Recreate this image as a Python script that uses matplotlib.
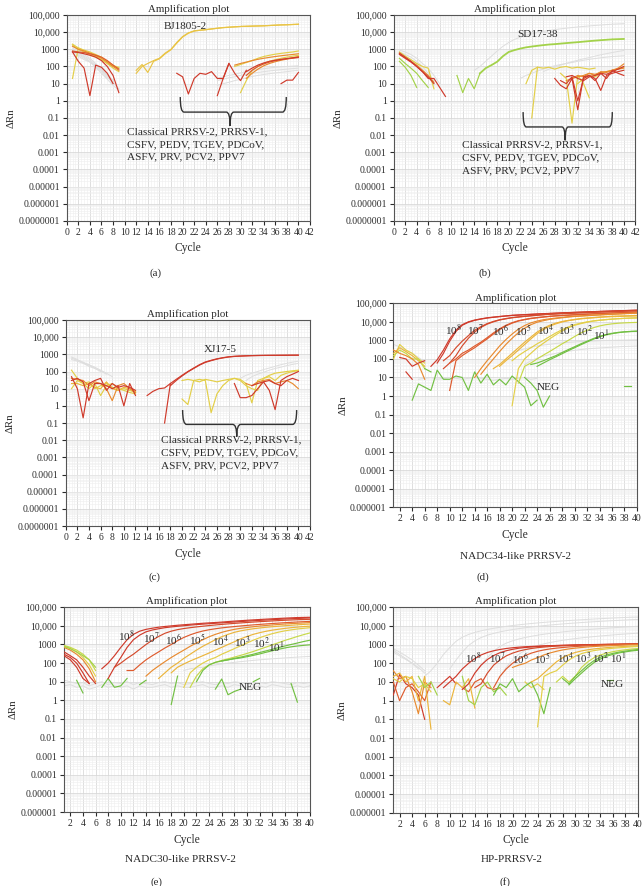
"""
Amplification plots, six panels (a)-(f): specificity and sensitivity runs.
Output: out.png
"""
import numpy as np
import matplotlib
matplotlib.use("Agg")
import matplotlib.pyplot as plt
from matplotlib.ticker import FixedLocator, MultipleLocator, LogLocator, NullFormatter
from matplotlib.path import Path
from matplotlib.patches import PathPatch

plt.rcParams["font.family"] = ["Liberation Serif", "DejaVu Serif"]
plt.rcParams["mathtext.fontset"] = "stix"

# ── Axis ticks ───────────────────────────────────────────────────────────────
Y_TICKS_7 = [1e5, 1e4, 1e3, 1e2, 1e1, 1, 0.1, 0.01, 1e-3, 1e-4, 1e-5, 1e-6, 1e-7]
Y_LABELS_7 = ["100,000", "10,000", "1000", "100", "10", "1", "0.1", "0.01",
              "0.001", "0.0001", "0.00001", "0.000001", "0.0000001"]
X_TICKS_ABC = list(range(0, 43, 2))
X_TICKS_DEF = list(range(2, 41, 2))
DILUTIONS = ["10$^{8}$", "10$^{7}$", "10$^{6}$", "10$^{5}$",
             "10$^{4}$", "10$^{3}$", "10$^{2}$", "10$^{1}$"]
NEG_LABEL = "NEG"
CROSS_TEXT = "Classical PRRSV-2, PRRSV-1,\nCSFV, PEDV, TGEV, PDCoV,\nASFV, PRV, PCV2, PPV7"

# ── Panel (a): each series = (first cycle, ΔRn values per cycle) ─────────────
A_BJ1805 = [40, 100, 150, 220, 300, 600, 1000, 2500, 5500, 9000, 12000, 13000,
            14000, 15500, 17000, 18500, 19500, 20500, 21500, 22000, 22500, 23000,
            23500, 24500, 25500, 26500, 27000, 28000, 29000]
A_BJ1805_REP = [60, 130, 45, 200, 280, 550, 950, 2300, 5200, 8700, 11500, 12800,
                13800, 15200, 16700, 18200, 19200, 20200, 21200, 21800, 22300,
                22800, 23300, 24200, 25200, 26200, 26800, 27700, 28500]
A_GRAY = [(1, [1500, 900, 500, 300, 150, 70, 30, 12, 5]),
          (1, [1200, 700, 400, 250, 120, 60, 25, 10]),
          (1, [900, 600, 350, 200, 100, 50, 20]),
          (1, [700, 500, 300, 180, 90, 40, 18, 8, 4]),
          (1, [1000, 400, 250, 180, 120, 80, 40, 15]),
          (26, [15, 18, 22, 25, 30, 35, 40, 45, 50, 55, 60, 65, 70, 75, 80]),
          (26, [8, 10, 12, 15, 18, 22, 26, 30, 34, 38, 42, 46, 50, 55, 60]),
          (26, [20, 25, 30, 35, 42, 50, 58, 66, 74, 82, 90, 95, 100, 105, 110])]
A_RED = [(1, [700, 650, 550, 450, 350, 220, 100, 30, 3]),
         (1, [700, 200, 80, 2, 120, 90, 40, 10]),
         (19, [40, 25, 2.5, 20, 40, 35, 50, 20, 20, 150, 40, 15, 60]),
         (26, [2, 20, 150]),
         (31, [50, 80, 120, 160, 200, 230, 260, 290, 320, 350]),
         (37, [10, 16, 16, 45])]
A_RED2 = [(1, [800, 700, 650, 550, 450, 350, 220, 120, 70]),
          (31, [30, 60, 100, 140, 180, 220, 250, 280, 300, 330])]
A_ORANGE = [(1, [1500, 1000, 800, 600, 450, 300, 180, 100, 60]),
            (31, [20, 40, 70, 110, 150, 190, 230, 270, 320, 380]),
            (29, [120, 150, 180, 220, 260, 300, 340, 380, 420, 460, 500, 550])]
A_YELLOW = [(1, [2000, 1200, 900, 700, 500, 350, 200, 120, 80]),
            (1, [20, 1200, 800, 500, 400, 250, 150, 80, 50]),
            (1, [1800, 1000, 700, 500, 350, 250, 150, 100, 90]),
            (29, [100, 130, 170, 220, 300, 380, 450, 520, 580, 640, 700, 800]),
            (30, [3, 15, 60, 100, 150, 200, 250, 300, 350, 400, 450])]

# ── Panel (b) ────────────────────────────────────────────────────────────────
B_SD1738 = [40, 80, 120, 190, 400, 700, 900, 1100, 1300, 1450, 1600, 1750, 1900,
            2000, 2150, 2300, 2450, 2600, 2800, 3000, 3200, 3400, 3600, 3800,
            3900, 4000]
B_GRAY = [(1, [900, 700, 500, 300, 150, 80, 30, 10]),
          (1, [700, 500, 350, 200, 100, 40, 15]),
          (1, [600, 400, 250, 150, 70, 25, 8]),
          (14, [60, 100, 200, 400, 800, 1500, 2500, 3800, 5000, 6500, 8000, 9500,
                11000, 12500, 14000, 15500, 17000, 18500, 20000, 21500, 23000,
                24500, 26000, 27500, 29000, 30000, 31000]),
          (22, [20, 30, 40, 55, 70, 90, 110, 130, 150, 170, 200, 230, 260, 290,
                320, 350, 380, 400, 420]),
          (26, [50, 70, 90, 120, 150, 190, 230, 280, 330, 400, 480, 560, 650,
                750, 850])]
B_RED = [(1, [600, 350, 200, 100, 50, 20, 20, 6, 1.8]),
         (1, [500, 300, 180, 100, 50, 25, 10]),
         (28, [20, 8, 5, 20, 0.3, 25, 30, 20, 4, 30, 40, 50, 60]),
         (29, [15, 10, 25, 1, 20, 30, 15, 40, 20, 60, 40, 30]),
         (30, [25, 30, 20, 15, 25, 30, 40, 35, 50, 70, 100])]
B_ORANGE = [(1, [550, 320, 200, 120, 60, 30, 12]),
            (30, [15, 20, 25, 30, 40, 35, 45, 50, 60, 70, 80]),
            (31, [20, 30, 25, 40, 30, 50, 45, 60, 80, 140])]
B_YELLOW = [(1, [700, 400, 250, 150, 100, 80, 5]),
            (23, [10, 60, 90, 80, 90, 70, 90, 100, 80, 90, 80, 70, 80]),
            (24, [0.1, 90]),
            (29, [40, 20, 0.05, 30, 10, 1.5]),
            (32, [10, 20, 30, 25, 40, 50, 60, 70, 90])]
B_GREEN = [(1, [200, 90, 30, 6]),
           (1, [300, 150, 80, 40, 15, 6]),
           (11, [30, 3, 20, 5, 40])]

# ── Panel (c) ────────────────────────────────────────────────────────────────
C_XJ175 = [0.1, 20, 35, 60, 100, 160, 250, 360, 450, 550, 640, 720, 770, 800,
           830, 850, 860, 870, 875, 880, 885, 890, 895, 900]
C_XJ175_REP = [15, 30, 55, 95, 150, 235, 340, 430, 530, 620, 700, 755, 790, 815,
               840, 855, 865, 872, 878, 883, 888, 893, 898]
C_GRAY = [(1, [700, 500, 350, 250, 180, 120, 80, 50]),
          (1, [600, 450, 320, 230, 160, 110, 70]),
          (1, [500, 400, 300, 200, 150, 100]),
          (30, [40, 60, 80, 100, 130, 160, 200, 250, 300, 350, 400]),
          (31, [30, 50, 70, 90, 120, 150, 180, 220, 260, 300])]
C_RED = [(1, [50, 10, 0.2, 20, 30, 40, 8, 20, 12, 15, 12, 8]),
         (1, [30, 40, 25, 2, 20, 20, 15, 10, 15, 1, 20, 4]),
         (14, [4, 7, 10, 11, 20]),
         (29, [20, 3, 3, 4, 10, 25, 8, 0.6, 30, 50, 70, 100]),
         (32, [15, 20, 25, 30, 20, 15, 30, 40, 30])]
C_ORANGE = [(1, [40, 35, 30, 15, 25, 20, 10, 2, 15, 20, 10, 6]),
            (31, [20, 15, 25, 30, 35, 20, 25, 30, 20, 10])]
C_YELLOW = [(1, [120, 40, 20, 10, 20, 4, 15, 20, 10, 8, 6, 5]),
            (1, [10, 30, 20, 25, 10, 15, 20, 12, 8, 10, 8, 6]),
            (20, [2.5, 1.2, 30, 35, 30, 0.4, 5, 15, 30, 40, 30, 15, 10, 8, 40,
                  50, 30, 60, 80, 100, 110]),
            (20, [30, 35, 30, 25, 35, 30, 25, 30, 35, 40, 35, 20, 1.5, 30, 40,
                  60, 80, 90, 100, 110, 120])]
C_AMBER = [(1, [20, 20, 15, 20, 12, 10, 25, 10, 8, 12, 10, 7])]

# ── Panel (d) NADC34-like, dilutions 10^8 .. 10^1 (replicates) ───────────────
D_STD = [
    [(7, [40, 90, 300, 1200, 3500, 7000, 10000, 12500, 14500, 16500, 18000, 19500,
          21000, 22500, 23500, 24500, 25500, 26500, 27500, 28500, 29500, 30500,
          31500, 32500, 33500, 34500, 35500, 36500, 37500, 38500, 39500, 40500,
          41500, 42500]),
     (8, [60, 200, 900, 3000, 6500, 9500, 12000, 14000, 16000, 17500, 19000, 20500,
          22000, 23000, 24000, 25000, 26000, 27000, 28000, 29000, 30000, 31000,
          32000, 33000, 34000, 35000, 36000, 37000, 38000, 39000, 40000, 41000,
          42000])],
    [(9, [80, 150, 400, 900, 1800, 3500, 5500, 8000, 10500, 13000, 15000, 17000,
          18500, 20000, 21500, 23000, 24500, 26000, 27000, 28000, 29000, 30000,
          31000, 32000, 33000, 34000, 35000, 36000, 37000, 38000, 39000, 40000]),
     (9, [30, 60, 150, 500, 1300, 2800, 5000, 7500, 10000, 12500, 14500, 16500,
          18000, 19500, 21000, 22500, 24000, 25500, 26500, 27500, 28500, 29500,
          30500, 31500, 32500, 33500, 34500, 35500, 36500, 37500, 38500, 39500])],
    [(10, [2, 80, 150, 250, 400, 700, 1200, 2200, 3800, 6000, 8500, 11000, 13000,
           15000, 16500, 18000, 19500, 21000, 22000, 23000, 24000, 25000, 26000,
           27000, 28000, 29000, 30000, 31000, 32000, 33000, 34000]),
     (10, [60, 100, 200, 300, 500, 800, 1400, 2500, 4200, 6500, 9000, 11500, 13500,
           15500, 17000, 18500, 20000, 21000, 22000, 23000, 24000, 25000, 26000,
           27000, 28000, 29000, 30000, 31000, 32000, 33000, 33500])],
    [(15, [15, 40, 100, 250, 600, 1300, 2600, 4500, 7000, 9500, 11500, 13500,
           15000, 16500, 18000, 19500, 20500, 21500, 22500, 23500, 24500, 25500,
           26500, 27500, 28500, 29500]),
     (14, [10, 30, 80, 200, 500, 1100, 2200, 4000, 6300, 8800, 11000, 13000, 14500,
           16000, 17500, 19000, 20000, 21000, 22000, 23000, 24000, 25000, 26000,
           27000, 28000, 29000, 30000])],
    [(17, [30, 50, 100, 200, 400, 800, 1500, 2800, 4500, 6500, 8500, 10500, 12000,
           13500, 15000, 16000, 17000, 18000, 19000, 20000, 20500, 21000, 21500,
           22000]),
     (18, [40, 80, 150, 300, 600, 1200, 2300, 3800, 5800, 7800, 9800, 11500, 13000,
           14500, 15500, 16500, 17500, 18500, 19000, 19500, 20000, 20500, 21000])],
    [(20, [0.3, 30, 100, 200, 400, 700, 1200, 2000, 3200, 4800, 6500, 8000, 9500,
           11000, 12000, 13000, 14000, 14800, 15500, 16000, 16500]),
     (20, [80, 150, 250, 400, 650, 1000, 1600, 2500, 3800, 5300, 7000, 8500, 10000,
           11200, 12300, 13200, 14000, 14700, 15300, 15800, 16200])],
    [(21, [5, 40, 60, 100, 160, 250, 400, 650, 1000, 1600, 2500, 3500, 4800, 6000,
           7000, 7800, 8400, 8800, 9100, 9300])],
    [(23, [50, 60, 80, 110, 150, 220, 320, 450, 650, 900, 1250, 1650, 2050, 2400,
           2700, 2900, 3050, 3150]),
     (24, [40, 60, 90, 130, 190, 280, 400, 580, 820, 1150, 1550, 1950, 2300, 2600,
           2850, 3000, 3100])],
]
D_GRAY = [(1, [600, 450, 300, 200, 120, 70]),
          (20, [200, 280, 350, 420, 500, 560, 620, 680, 730, 780, 820, 860, 900,
                930, 960, 990, 1000, 1020, 1040, 1060, 1080]),
          (22, [50, 80, 110, 140, 170, 200, 230, 260, 290, 320, 350, 370, 390,
                410, 430, 450, 470, 480, 500]),
          (5, [8, 9, 10, 8, 9, 10, 9, 8, 9, 10, 9, 8, 7, 8, 9, 8, 9, 10, 8, 9])]
D_EARLY = [(1, [100, 600, 300, 200, 100, 60]),
           (1, [200, 400, 250, 150, 80, 40]),
           (1, [150, 300, 200, 100, 100, 30]),
           (1, [300, 200, 150, 100, 50, 8])]
D_EARLY_RED = [(2, [120, 100, 40, 60, 80]), (3, [20, 8])]
D_NEG = [(4, [0.6, 4.5, 3, 2, 25, 8, 8, 12, 10, 2, 20, 5, 15, 4, 8, 4, 12, 6, 3,
              0.3, 0.6]),
         (22, [10, 5, 2, 0.25, 1]),
         (6, [30, 20]),
         (38, [3.5, 3.5])]

# ── Panel (e) NADC30-like ────────────────────────────────────────────────────
E_STD = [
    [(7, [50, 100, 250, 700, 1800, 3500, 5200, 6500, 7500, 8500, 9300, 10000,
          10800, 11500, 12200, 13000, 13800, 14500, 15200, 16000, 17000, 18000,
          19000, 20000, 21000, 22000, 23000, 24000, 25000, 26000, 27000, 28000,
          28500, 29000]),
     (8, [15, 60, 200, 700, 1800, 3200, 4800, 6000, 7000, 8000, 8800, 9500, 10200,
          11000, 11700, 12400, 13100, 13800, 14500, 15300, 16100, 17000, 17900,
          18800, 19700, 20600, 21500, 22400, 23300, 24200, 25000, 25800, 26500])],
    [(9, [60, 100, 180, 300, 550, 1000, 1700, 2700, 4000, 5200, 6300, 7200, 8000,
          8800, 9600, 10400, 11200, 12000, 12800, 13600, 14400, 15200, 16000,
          16800, 17600, 18400, 19200, 20000, 20800, 21500, 22000, 22500])],
    [(11, [40, 40, 80, 150, 250, 400, 650, 1000, 1600, 2400, 3300, 4300, 5300,
           6200, 7000, 7800, 8500, 9200, 9900, 10600, 11300, 12000, 12700, 13400,
           14100, 14800, 15500, 16200, 16800, 17400])],
    [(14, [20, 40, 70, 120, 200, 320, 500, 800, 1200, 1800, 2600, 3500, 4500,
           5500, 6500, 7400, 8200, 9000, 9800, 10500, 11200, 11900, 12600, 13200,
           13800, 14400, 15000])],
    [(16, [15, 30, 60, 100, 180, 300, 500, 800, 1200, 1800, 2600, 3500, 4500, 5400,
           6200, 7000, 7700, 8400, 9000, 9600, 10200, 10800, 11400, 12000, 12500]),
     (18, [30, 60, 90, 130, 180, 250, 350, 500, 700, 1000, 1400, 2000, 2700, 3500,
           4300, 5100, 5900, 6600, 7300, 8000, 8600, 9200, 9700])],
    [(20, [5, 30, 60, 100, 150, 200, 300, 420, 600, 850, 1200, 1700, 2300, 3000,
           3800, 4600, 5400, 6100, 6800, 7400, 8000])],
    [(21, [5, 20, 50, 80, 110, 140, 170, 210, 260, 330, 420, 550, 720, 950, 1250,
           1650, 2100, 2700, 3400, 4200])],
    [(22, [10, 40, 80, 110, 130, 150, 170, 190, 220, 260, 310, 380, 460, 550, 650,
           750, 830, 900, 960]),
     (26, [130, 150, 180, 210, 250, 300, 370, 450, 550, 680, 830, 1000, 1200,
           1450, 1700])],
]
E_GRAY = [(1, [12, 10, 8, 9, 6, 8, 10, 7, 9, 8, 10, 7, 9, 8, 7, 9, 10, 8, 9, 7,
               8, 9, 10, 8, 7, 9, 8, 10, 9, 8, 7, 9, 8, 10, 9, 8, 7, 9, 8, 9]),
          (1, [6, 7, 5, 6, 4, 5, 7, 5, 6, 5, 6, 4, 6, 5, 5, 6, 7, 5, 6, 5, 5, 6,
               7, 5, 5, 6, 5, 7, 6, 5, 5, 6, 5, 7, 6, 5, 5, 6, 5, 6]),
          (20, [40, 50, 55, 60, 70, 80, 90, 100, 110, 120, 130, 140, 150, 160,
                170, 180, 190, 200, 210, 220, 230])]
E_EARLY = [[(1, [400, 250, 150, 60, 20, 8]), (1, [300, 200, 100, 30, 8]),
            (1, [250, 150, 60, 15, 8])],
           [(1, [700, 500, 300, 150, 50, 10])],
           [(1, [800, 600, 400, 200, 80, 20])],
           [(1, [900, 700, 500, 300, 150, 40])],
           [(1, [800, 600, 400, 250, 150, 60])]]
E_NEG = [(3, [12, 2.5]), (7, [5, 15, 5, 6, 15]), (13, [7, 12]), (18, [0.6, 20]),
         (25, [4, 14, 2, 3, 4]), (31, [10, 15]), (37, [8, 0.8])]

# ── Panel (f) HP-PRRSV-2 ─────────────────────────────────────────────────────
F_STD = [
    [(9, [5, 10, 20, 50, 100, 180, 280, 380, 470, 550, 620, 680, 730, 770, 800,
          830, 860, 880, 900, 920, 940, 960, 980, 1000, 1010, 1020, 1030, 1040,
          1050, 1060, 1070, 1080]),
     (12, [4, 8, 30, 80, 160, 260, 370, 470, 560, 640, 700, 750, 790, 830, 860,
           890, 910, 930, 950, 970, 990, 1000, 1010, 1020, 1030, 1040, 1050, 1060,
           1070])],
    [(14, [5, 8, 30, 80, 150, 250, 350, 450, 540, 620, 690, 740, 790, 830, 860,
           890, 920, 940, 960, 980, 1000, 1020, 1040, 1060, 1080, 1100, 1120])],
    [(17, [5, 20, 50, 100, 170, 260, 350, 440, 520, 590, 650, 700, 750, 790, 830,
           860, 890, 920, 950, 980, 1000, 1020, 1040, 1060])],
    [(20, [60, 80, 100, 150, 200, 280, 360, 440, 520, 590, 650, 700, 750, 790, 830,
           860, 890, 920, 950, 980, 1000])],
    [(23, [10, 15, 30, 60, 120, 200, 290, 380, 460, 530, 590, 640, 690, 730, 770,
           800, 830, 860])],
    [(24, [0.04, 20, 30, 40, 80, 150, 240, 330, 410, 480, 540, 590, 640, 680, 720,
           760, 800])],
    [(27, [10, 20, 10, 20, 60, 120, 200, 280, 350, 420, 480, 530, 580, 620])],
    [(28, [15, 8, 20, 40, 80, 140, 210, 280, 340, 400, 450, 500, 550]),
     (29, [7, 15, 30, 60, 110, 170, 240, 300, 360, 410, 460, 500])],
]
F_GRAY = [(1, [600, 400, 250, 150, 80, 40]),
          (1, [500, 300, 180, 100, 60, 30]),
          (1, [400, 250, 160, 100, 50]),
          (6, [20, 40, 100, 300, 700, 1500, 2500, 3500, 4500, 5500, 6500, 7500,
               8500, 9500, 10500, 11500, 12500, 13500, 14500, 15500, 16500, 17500,
               18500, 19500, 20500, 21500, 22500, 23500, 24500, 25500, 26500,
               27500, 28500, 29500, 30000]),
          (10, [50, 150, 400, 900, 1600, 2400, 3200, 4000, 4800, 5600, 6400, 7200,
                8000, 8800, 9600, 10400, 11200, 12000, 12800, 13600, 14400, 15200,
                16000, 16800, 17600, 18400, 19200, 20000, 20800, 21600, 22400]),
          (14, [30, 80, 200, 450, 800, 1200, 1600, 2000, 2400, 2800, 3200, 3600,
                4000, 4400, 4800, 5200, 5600, 6000, 6400, 6800, 7200, 7600, 8000,
                8400, 8800, 9200, 9600]),
          (18, [20, 60, 150, 300, 500, 700, 900, 1100, 1300, 1500, 1700, 1900,
                2100, 2300, 2500, 2700, 2900, 3100, 3300, 3500, 3700, 3900, 4100])]
F_NOISE = [[(1, [2, 25, 8, 5, 2, 0.1]), (8, [5, 10, 20, 8])],
           [(1, [10, 1, 5, 8, 3, 1, 10]), (12, [5, 3, 10, 15, 5, 4, 5])],
           [(1, [40, 15, 20, 3, 0.2, 10, 5])],
           [(1, [20, 30, 10, 20, 1, 20, 0.03]), (9, [1, 0.6, 10, 5, 15, 0.4])],
           [(1, [15, 10, 20, 15, 5, 8, 3]), (22, [10, 5, 8, 4])],
           [(5, [20, 5, 10, 2]), (12, [20, 1, 0.6, 5, 10, 3, 5, 2])],
           [(17, [2, 8, 5, 15, 3, 6, 10, 2, 0.2, 5])]]
F_NEG = [(35, [12, 12])]

# ── Style ────────────────────────────────────────────────────────────────────
RED, RED2, ORANGE = "#cf3a2b", "#de5b2e", "#e88a30"
AMBER, YELLOW, YGREEN = "#ebb53c", "#e3cf48", "#c7d94a"
LGREEN, GREEN, GRAY = "#a3d24a", "#72c043", "#dedede"
STD_COLORS = [RED, "#d44a2c", RED2, ORANGE, AMBER, YELLOW, YGREEN, GREEN]
NOISE_COLORS = [RED, RED2, ORANGE, AMBER, YELLOW, LGREEN, GREEN]
TXT = "#2a2a2a"
FS = 7.8


def draw(ax, group, color, lw=0.85, z=3):
    for start, vals in group:
        x = np.arange(start, start + len(vals))
        ax.plot(x, vals, color=color, lw=lw, zorder=z, solid_joinstyle="round")


def setup(ax, xlim, xticks, ymin):
    ax.set_yscale("log")
    ax.set_xlim(*xlim)
    ax.set_ylim(ymin, 1e5)
    ax.set_xticks(xticks)
    ax.xaxis.set_minor_locator(MultipleLocator(0.5))
    n = Y_TICKS_7.index(ymin) + 1
    ax.yaxis.set_major_locator(FixedLocator(Y_TICKS_7[:n]))
    ax.set_yticklabels(Y_LABELS_7[:n])
    ax.yaxis.set_minor_locator(LogLocator(base=10, subs=np.arange(2, 10), numticks=100))
    ax.yaxis.set_minor_formatter(NullFormatter())
    ax.grid(which="major", color="#d9d9d9", lw=0.6, zorder=0)
    ax.grid(which="minor", color="#eeeeee", lw=0.4, zorder=0)
    ax.tick_params(which="minor", length=0)
    ax.tick_params(which="major", length=3, width=0.8, direction="out",
                   labelsize=6.9, pad=2, colors=TXT)
    for s in ax.spines.values():
        s.set_color("#555")
        s.set_linewidth(0.8)
    ax.set_title("Amplification plot", fontsize=FS, pad=2, color=TXT)
    ax.set_xlabel("Cycle", fontsize=FS + 0.5, labelpad=4, color=TXT)
    ax.set_ylabel("ΔRn", fontsize=FS, labelpad=2, color=TXT)


def brace(ax, x0, x1, xm, ytop, ybar, ytip):
    dx = (x1 - x0) * 0.035
    verts = [(x0, ytop), (x0, ybar), (x0 + dx, ybar), (xm - dx, ybar),
             (xm, ybar), (xm, ytip),
             (xm, ytip), (xm, ybar), (xm + dx, ybar), (x1 - dx, ybar),
             (x1, ybar), (x1, ytop)]
    codes = [Path.MOVETO, Path.CURVE3, Path.CURVE3, Path.LINETO,
             Path.CURVE3, Path.CURVE3,
             Path.MOVETO, Path.CURVE3, Path.CURVE3, Path.LINETO,
             Path.CURVE3, Path.CURVE3]
    ax.add_patch(PathPatch(Path(verts, codes), fill=False, edgecolor="#333",
                           lw=1.0, zorder=5))


def cross_text(ax, x, y):
    ax.text(x, y, CROSS_TEXT, fontsize=FS + 0.3, color=TXT, ha="left", va="top",
            linespacing=1.55, zorder=6)


def dil_labels(ax, xs, ys, fs=FS + 0.3):
    for lab, x, y in zip(DILUTIONS, xs, ys):
        ax.text(x, y, lab, fontsize=fs, ha="center", va="center", color=TXT, zorder=6)


fig = plt.figure(figsize=(6.44, 8.86), dpi=100)
fig.patch.set_facecolor("white")

ax_a = fig.add_axes([0.1036, 0.7506, 0.3778, 0.2325])
ax_b = fig.add_axes([0.6113, 0.7506, 0.3752, 0.2325])
ax_c = fig.add_axes([0.1020, 0.4063, 0.3794, 0.2325])
ax_d = fig.add_axes([0.6110, 0.4274, 0.3781, 0.2303])
ax_e = fig.add_axes([0.0994, 0.0835, 0.3820, 0.2311])
ax_f = fig.add_axes([0.6107, 0.0827, 0.3800, 0.2319])

for ax in (ax_a, ax_b, ax_c):
    setup(ax, (0, 42), X_TICKS_ABC, 1e-7)
for ax in (ax_d, ax_e, ax_f):
    setup(ax, (1, 40), X_TICKS_DEF, 1e-6)

# (a)
draw(ax_a, A_GRAY, GRAY, lw=0.7, z=2)
draw(ax_a, A_YELLOW, YELLOW)
draw(ax_a, [(12, A_BJ1805), (12, A_BJ1805_REP)], "#e9c445")
draw(ax_a, A_ORANGE, ORANGE)
draw(ax_a, A_RED2, RED2)
draw(ax_a, A_RED, RED)
ax_a.text(20.4, 22000, "BJ1805-2", fontsize=FS + 0.3, ha="center", va="center",
          color=TXT, zorder=6)
brace(ax_a, 19.6, 37.9, 28.2, 1.66, 0.22, 0.035)
cross_text(ax_a, 10.4, 0.03)

# (b)
draw(ax_b, B_GRAY, GRAY, lw=0.7, z=2)
draw(ax_b, B_YELLOW, YELLOW)
draw(ax_b, B_ORANGE, ORANGE)
draw(ax_b, B_RED, RED)
draw(ax_b, B_GREEN, LGREEN)
draw(ax_b, [(15, B_SD1738)], LGREEN, lw=1.3)
ax_b.text(25, 4200, "SD17-38", fontsize=FS + 0.3, ha="center", va="bottom",
          color=TXT, zorder=6)
brace(ax_b, 22.5, 38, 29.8, 0.22, 0.03, 0.005)
cross_text(ax_b, 11.9, 0.005)

# (c)
draw(ax_c, C_GRAY, GRAY, lw=0.7, z=2)
draw(ax_c, C_YELLOW, YELLOW)
draw(ax_c, C_AMBER, AMBER)
draw(ax_c, C_ORANGE, ORANGE)
draw(ax_c, C_RED, RED)
draw(ax_c, [(17, C_XJ175), (18, C_XJ175_REP)], RED)
ax_c.text(26.6, 1950, "XJ17-5", fontsize=FS + 0.3, ha="center", va="center",
          color=TXT, zorder=6)
brace(ax_c, 20.1, 39.7, 29.4, 0.57, 0.083, 0.016)
cross_text(ax_c, 16.4, 0.019)

# (d)
draw(ax_d, D_GRAY, GRAY, lw=0.7, z=2)
for group, col in zip(D_EARLY, [YELLOW, AMBER, YGREEN, ORANGE]):
    draw(ax_d, [group], col)
draw(ax_d, D_EARLY_RED, RED)
draw(ax_d, D_NEG, GREEN)
for group, col in zip(D_STD, STD_COLORS):
    draw(ax_d, group, col)
dil_labels(ax_d, [10.6, 14.2, 18.1, 21.8, 25.4, 28.7, 31.6, 34.2],
           [3300, 3300, 3300, 3300, 3300, 3300, 3000, 1950])
ax_d.text(25.8, 3, NEG_LABEL, fontsize=FS + 0.3, ha="center", va="center",
          color=TXT, zorder=6)

# (e)
draw(ax_e, E_GRAY, GRAY, lw=0.7, z=2)
for group, col in zip(E_EARLY, [RED, ORANGE, YELLOW, YGREEN, LGREEN]):
    draw(ax_e, group, col)
draw(ax_e, E_NEG, GREEN)
for group, col in zip(E_STD, STD_COLORS):
    draw(ax_e, group, col)
dil_labels(ax_e, [10.9, 14.8, 18.4, 22.2, 25.8, 29.3, 32.3, 34.7],
           [2600, 2000, 1800, 1800, 1500, 1300, 1200, 760])
ax_e.text(30.5, 5, NEG_LABEL, fontsize=FS + 0.3, ha="center", va="center",
          color=TXT, zorder=6)

# (f)
draw(ax_f, F_GRAY, GRAY, lw=0.7, z=2)
for group, col in zip(F_NOISE, NOISE_COLORS):
    draw(ax_f, group, col)
draw(ax_f, F_NEG, GREEN)
for group, col in zip(F_STD, STD_COLORS):
    draw(ax_f, group, col)
dil_labels(ax_f, [13.8, 17.5, 21.3, 24.7, 28.4, 31.3, 34.0, 36.8],
           [186, 186, 186, 186, 186, 186, 180, 186], fs=FS)
ax_f.text(35.9, 7.6, NEG_LABEL, fontsize=FS + 0.3, ha="center", va="center",
          color=TXT, zorder=6)

# ── Panel captions ──────────────────────────────────────────────────────────
for x, y, s in [(0.2407, 0.6922, "(a)"), (0.7526, 0.6915, "(b)"),
                (0.2391, 0.3491, "(c)"), (0.7495, 0.3491, "(d)"),
                (0.2433, 0.0040, "(e)"), (0.7836, 0.0040, "(f)")]:
    fig.text(x, y, s, fontsize=FS, ha="center", va="center", color=TXT)
for x, y, s in [(0.8002, 0.3717, "NADC34-like PRRSV-2"),
                (0.2795, 0.0301, "NADC30-like PRRSV-2"),
                (0.7950, 0.0301, "HP-PRRSV-2")]:
    fig.text(x, y, s, fontsize=FS + 0.3, ha="center", va="center", color=TXT)

fig.savefig("out.png", dpi=100)
